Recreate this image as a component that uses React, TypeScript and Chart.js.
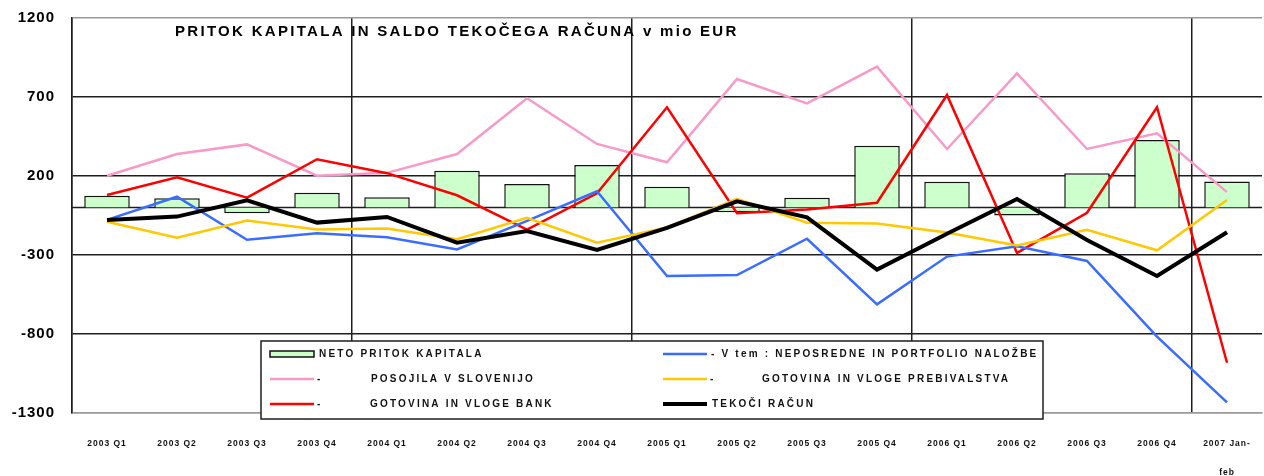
import React, { useEffect, useRef } from 'react';
import { Chart, registerables } from 'chart.js';

Chart.register(...registerables);

const categories: (string | string[])[] = [
  '2003 Q1', '2003 Q2', '2003 Q3', '2003 Q4',
  '2004 Q1', '2004 Q2', '2004 Q3', '2004 Q4',
  '2005 Q1', '2005 Q2', '2005 Q3', '2005 Q4',
  '2006 Q1', '2006 Q2', '2006 Q3', '2006 Q4',
  ['2007 Jan-', 'feb'],
];

const netoPritokKapitala = [75, 59, -36, 94, 65, 233, 149, 270, 132, -30, 62, 392, 164, -50, 217, 428, 165];
const neposredneInPortfolio = [-78, 69, -204, -162, -188, -265, -84, 103, -433, -427, -197, -612, -310, -245, -338, -817, -1233];
const posojilaVSlovenijo = [202, 339, 400, 202, 220, 339, 692, 403, 287, 814, 660, 892, 371, 850, 371, 470, 98];
const gotovinaPrebivalstva = [-90, -190, -82, -138, -133, -200, -65, -222, -125, 55, -96, -100, -158, -240, -140, -270, 48];
const gotovinaBank = [80, 192, 63, 306, 218, 78, -140, 90, 635, -36, -12, 31, 713, -287, -33, 635, -982];
const tekociRacun = [-78, -57, 46, -95, -59, -222, -148, -268, -128, 40, -62, -392, -165, 55, -205, -433, -156];

const yTicks = [1200, 700, 200, -300, -800, -1300];

const chartTitle = 'PRITOK KAPITALA IN SALDO TEKOČEGA RAČUNA v mio EUR';
const nameNeto = 'NETO PRITOK KAPITALA';
const nameNeposredne = '- V tem : NEPOSREDNE IN PORTFOLIO NALOŽBE';
const namePosojila = 'POSOJILA V SLOVENIJO';
const namePrebivalstva = 'GOTOVINA IN VLOGE PREBIVALSTVA';
const nameBank = 'GOTOVINA IN VLOGE BANK';
const nameTekoci = 'TEKOČI RAČUN';

const FONT = "'Liberation Sans', Arial, sans-serif";

export default function App() {
  const ref = useRef<HTMLCanvasElement | null>(null);

  useEffect(() => {
    document.body.style.margin = '0';
    const canvas = ref.current;
    if (!canvas) return;

    const spacingPlugin = {
      id: 'spacing',
      beforeUpdate(c: any) { c.ctx.letterSpacing = '1px'; },
      beforeDraw(c: any) { c.ctx.letterSpacing = '1px'; },
    };

    const overlayPlugin = {
      id: 'overlay',
      beforeDatasetsDraw(c: any) {
        const ctx = c.ctx;
        const { left, right } = c.chartArea;
        const y0 = c.scales.y.getPixelForValue(0);
        ctx.save();
        ctx.strokeStyle = '#1e1e1e';
        ctx.lineWidth = 1.5;
        ctx.beginPath();
        ctx.moveTo(left, y0);
        ctx.lineTo(right, y0);
        ctx.stroke();
        ctx.restore();
      },
      afterDraw(c: any) {
        const ctx = c.ctx;
        const area = c.chartArea;
        const ds = c.data.datasets;
        ctx.save();
        // title
        ctx.letterSpacing = '2.3px';
        ctx.fillStyle = '#000';
        ctx.font = `bold 15px ${FONT}`;
        ctx.textBaseline = 'middle';
        ctx.textAlign = 'left';
        ctx.fillText(chartTitle, area.left + 103, area.top + 14);

        // legend box
        const bx = 261, by = 341, bw = 782, bh = 78;
        ctx.fillStyle = '#fff';
        ctx.fillRect(bx, by, bw, bh);
        ctx.strokeStyle = '#1e1e1e';
        ctx.lineWidth = 1.5;
        ctx.strokeRect(bx, by, bw, bh);

        const rows = [354, 379, 404];
        const cols = [270, 663];
        const entries = [
          { ds: 0, col: 0, row: 0, dash: false, off: 49 },
          { ds: 2, col: 0, row: 1, dash: true, off: 101 },
          { ds: 4, col: 0, row: 2, dash: true, off: 100 },
          { ds: 1, col: 1, row: 0, dash: false, off: 48 },
          { ds: 3, col: 1, row: 1, dash: true, off: 99 },
          { ds: 5, col: 1, row: 2, dash: false, off: 49 },
        ];
        ctx.font = `bold 10px ${FONT}`;
        ctx.letterSpacing = '2.2px';
        for (const e of entries) {
          const d = ds[e.ds];
          const x0 = cols[e.col];
          const y = rows[e.row];
          if (d.type === 'bar') {
            ctx.fillStyle = d.backgroundColor;
            ctx.fillRect(x0, y - 3, 44, 6);
            ctx.strokeStyle = '#111';
            ctx.lineWidth = 1.5;
            ctx.strokeRect(x0, y - 3, 44, 6);
          } else {
            ctx.strokeStyle = d.borderColor;
            ctx.lineWidth = d.borderWidth;
            ctx.beginPath();
            ctx.moveTo(x0, y);
            ctx.lineTo(x0 + 44, y);
            ctx.stroke();
          }
          ctx.fillStyle = '#111';
          if (e.dash) {
            ctx.fillText('-', x0 + 47, y);
          }
          ctx.fillText(d.label, x0 + e.off, y);
        }
        ctx.restore();
      },
    };

    const chart = new Chart(canvas, {
      type: 'bar',
      data: {
        labels: categories,
        datasets: [
          {
            type: 'bar',
            label: nameNeto,
            data: netoPritokKapitala,
            backgroundColor: '#ccffcc',
            borderColor: '#111',
            borderWidth: 1.5,
            categoryPercentage: 1,
            barPercentage: 0.65,
            order: 10,
          },
          {
            type: 'line',
            label: nameNeposredne,
            data: neposredneInPortfolio,
            borderColor: '#3a6cff',
            borderWidth: 2.5,
            pointRadius: 0,
            tension: 0,
            order: 3,
          },
          {
            type: 'line',
            label: namePosojila,
            data: posojilaVSlovenijo,
            borderColor: '#f79ac9',
            borderWidth: 2.5,
            pointRadius: 0,
            tension: 0,
            order: 5,
          },
          {
            type: 'line',
            label: namePrebivalstva,
            data: gotovinaPrebivalstva,
            borderColor: '#ffc800',
            borderWidth: 2.5,
            pointRadius: 0,
            tension: 0,
            order: 2,
          },
          {
            type: 'line',
            label: nameBank,
            data: gotovinaBank,
            borderColor: '#ff0000',
            borderWidth: 2.5,
            pointRadius: 0,
            tension: 0,
            order: 4,
          },
          {
            type: 'line',
            label: nameTekoci,
            data: tekociRacun,
            borderColor: '#000000',
            borderWidth: 4,
            pointRadius: 0,
            tension: 0,
            order: 0,
          },
        ] as any,
      },
      options: {
        responsive: false,
        animation: false,
        events: [],
        layout: { padding: { top: 18, right: 2, left: 0, bottom: 0 } },
        plugins: {
          legend: { display: false },
          tooltip: { enabled: false },
          title: { display: false },
        },
        scales: {
          x: {
            type: 'category',
            offset: true,
            grid: {
              offset: true,
              drawTicks: false,
              lineWidth: 1.5,
              color: (ctx: any) => {
                const i = ctx.index;
                if (i === 17) return '#9a9a9a';
                if (i === 4 || i === 8 || i === 12 || i === 16 || i === 0) return '#1e1e1e';
                return 'rgba(0,0,0,0)';
              },
            },
            border: { color: '#9a9a9a', width: 1.5 },
            ticks: {
              autoSkip: false,
              maxRotation: 0,
              minRotation: 0,
              padding: 16,
              color: '#111',
              font: { family: FONT, size: 8.5, weight: 'bold', lineHeight: '29px' as any },
            },
            afterFit: (scale: any) => {
              scale.height = 63;
              scale.paddingLeft = 0;
              scale.paddingRight = 0;
            },
          },
          y: {
            type: 'linear',
            min: -1300,
            max: 1200,
            afterBuildTicks: (scale: any) => {
              scale.ticks = yTicks.map((v) => ({ value: v }));
            },
            grid: {
              drawTicks: false,
              lineWidth: 1.5,
              color: (ctx: any) => {
                const v = ctx.tick ? ctx.tick.value : 0;
                return v === 1200 || v === -1300 ? '#9a9a9a' : '#1e1e1e';
              },
            },
            border: { color: '#1e1e1e', width: 1.5 },
            ticks: {
              padding: 17,
              color: '#000',
              font: { family: FONT, size: 15, weight: 'bold' },
              callback: (value: any) => String(value),
            },
            afterFit: (scale: any) => {
              scale.width = 72;
              scale.paddingTop = 0;
              scale.paddingBottom = 0;
            },
          },
        },
      },
      plugins: [spacingPlugin, overlayPlugin],
    } as any);

    return () => chart.destroy();
  }, []);

  return (
    <div style={{ width: 1264, height: 476, background: '#fff' }}>
      <canvas ref={ref} width={1264} height={476} style={{ display: 'block' }} />
    </div>
  );
}
